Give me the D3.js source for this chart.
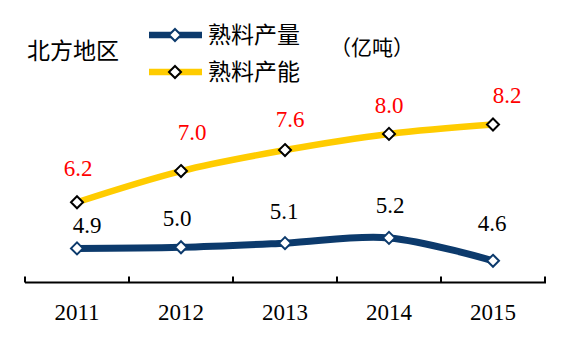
<!DOCTYPE html>
<html><head><meta charset="utf-8">
<script src="https://cdn.jsdelivr.net/npm/d3@7"></script>
<style>
html,body{margin:0;padding:0;background:#fff;}
svg{display:block;}
</style></head>
<body><svg id="chart" width="568" height="350"></svg>
<script>
const years = ["2011","2012","2013","2014","2015"];
const output = [4.94, 4.97, 5.08, 5.22, 4.61];      // 熟料产量
const capacity = [6.17, 7.0, 7.56, 7.99, 8.24];     // 熟料产能
const outputLabels = ["4.9","5.0","5.1","5.2","4.6"];
const capacityLabels = ["6.2","7.0","7.6","8.0","8.2"];
const seriesNames = ["熟料产量","熟料产能"];
const title = "北方地区";
const unit = "（亿吨）";

// label offsets (styling)
const outOff = [[10,-15],[-4,-21],[-1,-24],[1,-25],[-1,-30]];
const capOff = [[1,-26],[11,-31],[5,-23],[0,-21],[14,-22]];

const svg = d3.select("#chart");
const blue = "#0C3A6C", yellow = "#FFCC00";
const numFont = "'Liberation Serif','Times New Roman',serif";
const cjkFont = "'Noto Sans CJK SC','Noto Sans',sans-serif";
const numSize = 23;

const x = d3.scaleBand().domain(years).range([25, 545]).paddingInner(0).paddingOuter(0);
const y = d3.scaleLinear().domain([4, 9]).range([283.7, 96.0]);
const cx = d => x(d) + x.bandwidth()/2;

// axis
const axisY = 282.5;
const axis = d3.axisBottom(x).tickSize(0).tickPadding(0).tickFormat(()=> "");
const gAxis = svg.append("g").attr("transform",`translate(0,${axisY})`).call(axis);
gAxis.select(".domain").remove();
gAxis.append("line").attr("x1",25).attr("x2",546).attr("y1",0).attr("y2",0)
  .attr("stroke","#000").attr("stroke-width",2);
const bounds = years.map(d=>x(d)).concat([x(years[years.length-1])+x.bandwidth()]);
gAxis.selectAll("line.tk").data(bounds).join("line").attr("class","tk")
  .attr("x1",d=>d).attr("x2",d=>d).attr("y1",-6).attr("y2",0)
  .attr("stroke","#000").attr("stroke-width",2);
svg.append("g").selectAll("text").data(years).join("text")
  .attr("x",d=>cx(d)).attr("y",320).attr("text-anchor","middle")
  .attr("font-family",numFont).attr("font-size",numSize).attr("fill","#000").text(d=>d);

const line = d3.line().x((d,i)=>cx(years[i])).y(d=>y(d)).curve(d3.curveCatmullRom.alpha(0.5));

function diamond(s){
  return `M0,${-s}L${s},0L0,${s}L${-s},0Z`;
}

// capacity series
svg.append("path").datum(capacity).attr("d",line).attr("fill","none")
  .attr("stroke",yellow).attr("stroke-width",6.5);
svg.append("g").selectAll("path").data(capacity).join("path")
  .attr("transform",(d,i)=>`translate(${cx(years[i])},${y(d)})`)
  .attr("d",diamond(6)).attr("fill","#fff").attr("stroke","#000").attr("stroke-width",2);

// output series
svg.append("path").datum(output).attr("d",line).attr("fill","none")
  .attr("stroke",blue).attr("stroke-width",7);
svg.append("g").selectAll("path").data(output).join("path")
  .attr("transform",(d,i)=>`translate(${cx(years[i])},${y(d)})`)
  .attr("d",diamond(6)).attr("fill","#fff").attr("stroke",blue).attr("stroke-width",2);

// labels
svg.append("g").selectAll("text").data(capacity).join("text")
  .attr("x",(d,i)=>cx(years[i])+capOff[i][0]).attr("y",(d,i)=>y(d)+capOff[i][1])
  .attr("text-anchor","middle").attr("font-family",numFont).attr("font-size",numSize)
  .attr("fill","#FF0000").text((d,i)=>capacityLabels[i]);
svg.append("g").selectAll("text").data(output).join("text")
  .attr("x",(d,i)=>cx(years[i])+outOff[i][0]).attr("y",(d,i)=>y(d)+outOff[i][1])
  .attr("text-anchor","middle").attr("font-family",numFont).attr("font-size",numSize)
  .attr("fill","#000").text((d,i)=>outputLabels[i]);

// title & unit
svg.append("text").attr("x",27).attr("y",59).attr("font-family",cjkFont).attr("font-size",23)
  .attr("fill","#000").text(title);
svg.append("text").attr("x",330).attr("y",55).attr("font-family",cjkFont).attr("font-size",21)
  .attr("fill","#000").text(unit);

// legend
const leg = [{c:blue, s:blue, ly:35},{c:yellow, s:"#000", ly:72}];
leg.forEach((l,i)=>{
  svg.append("line").attr("x1",149).attr("x2",202).attr("y1",l.ly).attr("y2",l.ly)
    .attr("stroke",l.c).attr("stroke-width",6.5);
  svg.append("path").attr("transform",`translate(175,${l.ly})`).attr("d",diamond(6))
    .attr("fill","#fff").attr("stroke",l.s).attr("stroke-width",2);
  svg.append("text").attr("x",208).attr("y",l.ly+8).attr("font-family",cjkFont).attr("font-size",23)
    .attr("fill","#000").text(seriesNames[i]);
});
</script></body></html>
